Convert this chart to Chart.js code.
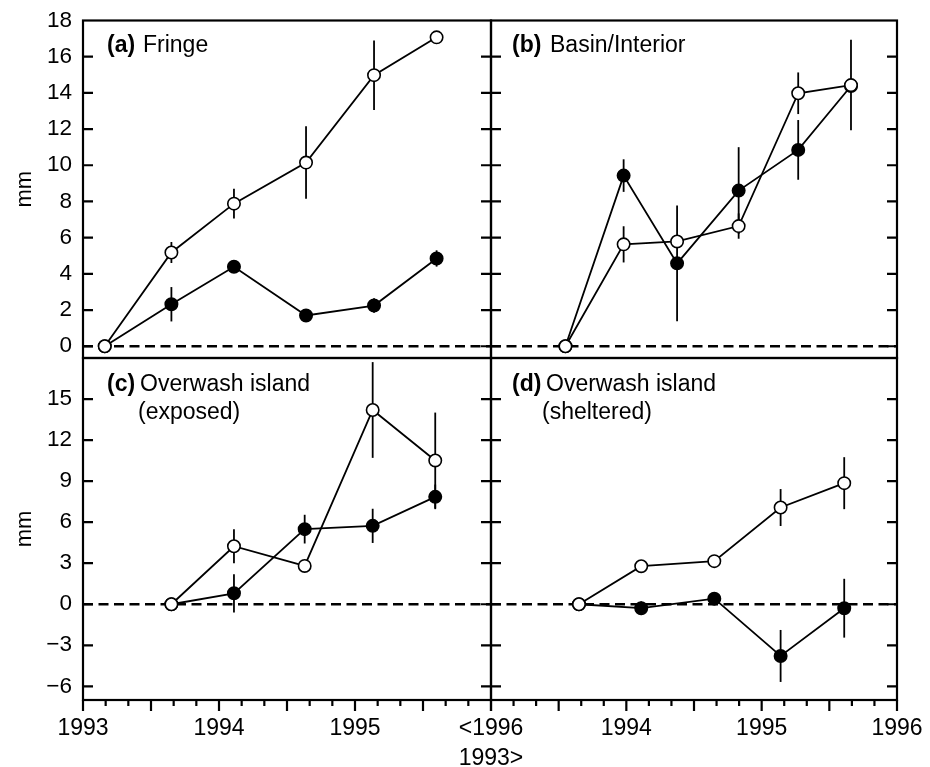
<!DOCTYPE html>
<html>
<head>
  <title>Accretion panels</title>
  <script src="https://cdn.jsdelivr.net/npm/chart.js"></script>
  <style>
    body { margin: 0; background: #fff; }
    #wrap { position: relative; width: 930px; height: 767px; }
    #wrap canvas { position: absolute; left: 0; top: 0; }
  </style>
</head>
<body>
<div id="wrap">
  <canvas id="chartA" width="930" height="767"></canvas>
  <canvas id="chartB" width="930" height="767"></canvas>
  <canvas id="chartC" width="930" height="767"></canvas>
  <canvas id="chartD" width="930" height="767"></canvas>
</div>

<script>
  // (a) Fringe
  const aDates = [1993.16, 1993.65, 1994.11, 1994.64, 1995.14, 1995.60];
  const aOpen = [0, 5.18, 7.88, 10.15, 14.98, 17.07];
  const aOpenErr = [0, 0.58, 0.82, 2.0, 1.92, 0];
  const aFilled = [0, 2.32, 4.39, 1.70, 2.25, 4.85];
  const aFilledErr = [0, 0.95, 0, 0, 0.4, 0.45];

  // (b) Basin/Interior
  const bDates = [1993.55, 1993.98, 1994.375, 1994.83, 1995.27, 1995.66];
  const bOpen = [0, 5.63, 5.79, 6.64, 13.98, 14.43];
  const bOpenErr = [0, 1.0, 0.3, 0.7, 1.15, 2.5];
  const bFilled = [0, 9.43, 4.58, 8.60, 10.85, 14.38];
  const bFilledErr = [0, 0.9, 3.2, 2.4, 1.65, 0];

  // (c) Overwash island (exposed)
  const cDates = [1993.65, 1994.11, 1994.63, 1995.13, 1995.59];
  const cOpen = [0, 4.24, 2.80, 14.2, 10.51];
  const cOpenErr = [0, 1.25, 0.4, 3.5, 3.5];
  const cFilled = [0, 0.80, 5.49, 5.73, 7.85];
  const cFilledErr = [0, 1.4, 1.05, 1.25, 0.9];

  // (d) Overwash island (sheltered)
  const dDates = [1993.65, 1994.11, 1994.65, 1995.14, 1995.61];
  const dOpen = [0, 2.78, 3.15, 7.07, 8.85];
  const dOpenErr = [0, 0.2, 0.4, 1.35, 1.9];
  const dFilled = [0, -0.29, 0.41, -3.78, -0.29];
  const dFilledErr = [0, 0.5, 0, 1.9, 2.15];

  const yearRange = [1993, 1996];
  const topRange = [-0.65, 18];
  const bottomRange = [-7, 18];
  const topStep = 2;
  const bottomStep = 3;

  const FONT = "'Liberation Sans', Arial, Helvetica, sans-serif";
  Chart.defaults.font.family = FONT;
  Chart.defaults.color = '#000';

  const toPts = (xs, ys) => xs.map((x, i) => ({x: x, y: ys[i]}));
  const minus = v => (v < 0 ? '\u2212' + Math.abs(v) : '' + v);
  const noOverhang = s => {
    s.paddingLeft = 0; s.paddingRight = 0; s.paddingTop = 0; s.paddingBottom = 0;
  };

  // frame, inward ticks, zero line, error bars, panel captions
  const panelDecor = {
    id: 'panelDecor',
    beforeDatasetsDraw(chart, args, opts) {
      const {ctx, chartArea: a, scales: {x, y}} = chart;
      ctx.save();
      // dashed zero line
      const y0 = y.getPixelForValue(0);
      ctx.strokeStyle = '#000';
      ctx.lineWidth = 2.6;
      ctx.setLineDash([10, 5.5]);
      ctx.beginPath();
      ctx.moveTo(a.left, y0);
      ctx.lineTo(a.right, y0);
      ctx.stroke();
      ctx.setLineDash([]);
      // error bars
      ctx.lineWidth = 1.8;
      opts.errors.forEach(([xs, ys, es]) => {
        xs.forEach((xv, i) => {
          if (!es[i]) return;
          const px = x.getPixelForValue(xv);
          ctx.beginPath();
          ctx.moveTo(px, y.getPixelForValue(Math.min(ys[i] + es[i], y.max)));
          ctx.lineTo(px, y.getPixelForValue(ys[i] - es[i]));
          ctx.stroke();
        });
      });
      ctx.restore();
    },
    afterDraw(chart, args, opts) {
      const {ctx, chartArea: a, scales: {x, y}} = chart;
      ctx.save();
      ctx.strokeStyle = '#000';
      ctx.lineWidth = 2.2;
      ctx.strokeRect(a.left, a.top, a.right - a.left, a.bottom - a.top);
      // y ticks, inward on both sides
      y.ticks.forEach(t => {
        const py = y.getPixelForValue(t.value);
        if (py <= a.top + 1 || py >= a.bottom - 1) return;
        ctx.beginPath();
        ctx.moveTo(a.left, py); ctx.lineTo(a.left + 10, py);
        ctx.moveTo(a.right - 10, py); ctx.lineTo(a.right, py);
        ctx.stroke();
      });
      // x ticks below the bottom panels, every two months
      if (opts.xTicks) {
        for (let i = 0; i <= 18; i++) {
          const px = x.getPixelForValue(x.min + i / 6);
          ctx.beginPath();
          ctx.moveTo(px, a.bottom);
          ctx.lineTo(px, a.bottom + (i % 3 === 0 ? 11 : 6));
          ctx.stroke();
        }
      }
      // caption
      ctx.fillStyle = '#000';
      ctx.textBaseline = 'middle';
      ctx.font = 'bold 23px ' + FONT;
      ctx.fillText(opts.tag, a.left + opts.tagX, a.top + opts.capY);
      ctx.font = '23px ' + FONT;
      opts.caption.forEach((line, i) => {
        ctx.fillText(line, a.left + opts.capX[i], a.top + opts.capY + i * 28);
      });
      ctx.restore();
    }
  };

  function makePanel(id, p) {
    const ctx = document.getElementById(id).getContext('2d');
    return new Chart(ctx, {
      type: 'line',
      data: {
        datasets: [
          {
            data: toPts(p.dates, p.open),
            borderColor: '#000', borderWidth: 1.8,
            pointBackgroundColor: '#fff', pointBorderColor: '#000',
            pointBorderWidth: 1.6, pointRadius: 6.2, tension: 0, clip: false
          },
          {
            data: toPts(p.dates, p.filled),
            borderColor: '#000', borderWidth: 1.8,
            pointBackgroundColor: '#000', pointBorderColor: '#000',
            pointBorderWidth: 1.6, pointRadius: 6.2, tension: 0, clip: false
          }
        ]
      },
      options: {
        responsive: false,
        animation: false,
        events: [],
        layout: {padding: p.padding},
        plugins: {
          legend: {display: false},
          tooltip: {enabled: false},
          panelDecor: {
            errors: [[p.dates, p.open, p.openErr], [p.dates, p.filled, p.filledErr]],
            xTicks: p.showX,
            tag: p.tag, tagX: p.tagX, caption: p.caption, capX: p.capX, capY: p.capY
          }
        },
        scales: {
          x: {
            type: 'linear',
            min: yearRange[0], max: yearRange[1],
            display: p.showX,
            afterFit: s => { s.height = p.showX ? 67 : 0; noOverhang(s); },
            grid: {display: false, drawTicks: false},
            border: {display: false},
            ticks: {
              stepSize: 0.5, autoSkip: false, maxRotation: 0, padding: 14,
              font: {size: 23, lineHeight: 1.3},
              callback: p.xLabel
            }
          },
          y: {
            min: p.range[0], max: p.range[1],
            display: p.showY,
            afterFit: s => { s.width = p.showY ? 83 : 0; noOverhang(s); },
            grid: {display: false, drawTicks: false},
            border: {display: false},
            title: {display: true, text: 'mm', font: {size: 22}, padding: {top: 12}},
            ticks: {
              stepSize: p.step, includeBounds: false, autoSkip: false, padding: 11,
              font: {size: 22.5},
              callback: v => (p.hideTop && v >= p.range[1] ? '' : minus(v))
            }
          }
        }
      },
      plugins: [panelDecor]
    });
  }

  makePanel('chartA', {
    dates: aDates, open: aOpen, openErr: aOpenErr, filled: aFilled, filledErr: aFilledErr,
    range: topRange, step: topStep, showX: false, showY: true, hideTop: false,
    padding: {left: 0, top: 20.5, right: 439, bottom: 409},
    tag: '(a)', tagX: 24, caption: ['Fringe'], capX: [60], capY: 25,
    xLabel: v => ''
  });

  makePanel('chartB', {
    dates: bDates, open: bOpen, openErr: bOpenErr, filled: bFilled, filledErr: bFilledErr,
    range: topRange, step: topStep, showX: false, showY: false, hideTop: false,
    padding: {left: 491, top: 20.5, right: 33, bottom: 409},
    tag: '(b)', tagX: 21, caption: ['Basin/Interior'], capX: [59], capY: 25,
    xLabel: v => ''
  });

  makePanel('chartC', {
    dates: cDates, open: cOpen, openErr: cOpenErr, filled: cFilled, filledErr: cFilledErr,
    range: bottomRange, step: bottomStep, showX: true, showY: true, hideTop: true,
    padding: {left: 0, top: 358, right: 439, bottom: 0},
    tag: '(c)', tagX: 24, caption: ['Overwash island', '(exposed)'], capX: [57, 55], capY: 27,
    xLabel: v => (v === 1996 ? ['<1996', '1993>'] : Number.isInteger(v) ? '' + v : '')
  });

  makePanel('chartD', {
    dates: dDates, open: dOpen, openErr: dOpenErr, filled: dFilled, filledErr: dFilledErr,
    range: bottomRange, step: bottomStep, showX: true, showY: false, hideTop: true,
    padding: {left: 491, top: 358, right: 33, bottom: 0},
    tag: '(d)', tagX: 21, caption: ['Overwash island', '(sheltered)'], capX: [55, 51], capY: 27,
    xLabel: v => (v > 1993 && Number.isInteger(v) ? '' + v : '')
  });
</script>
</body>
</html>
